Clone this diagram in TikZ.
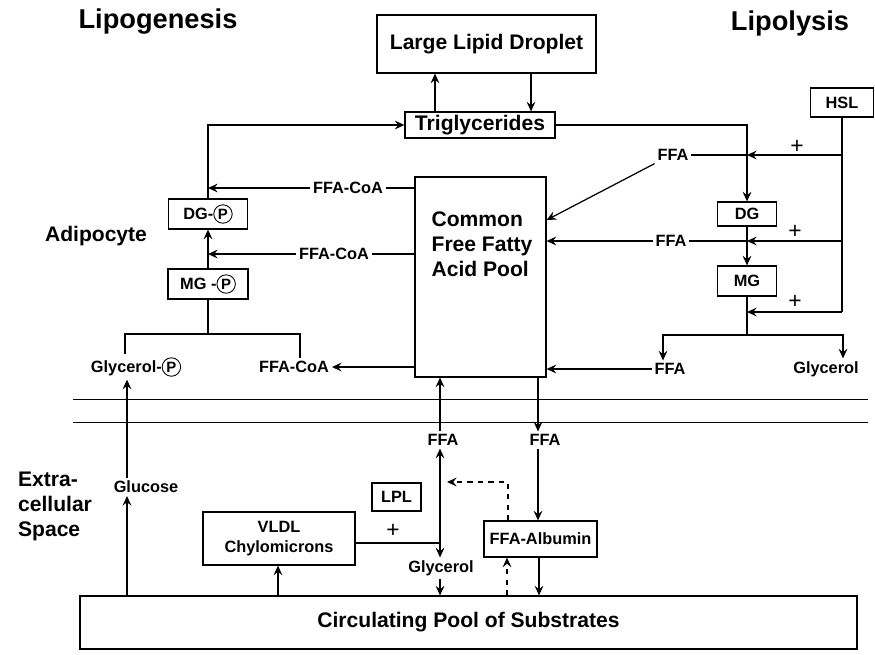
\documentclass[tikz,border=0pt]{standalone}
\usepackage{fontspec}
\setmainfont{Liberation Sans}
\usetikzlibrary{arrows.meta,positioning,calc}
\newcommand{\phos}{\tikz[baseline=(phosP.base)]\node[draw, circle, line width=0.5pt, inner sep=0.3pt,
  minimum size=10.5pt, anchor=center, font=\fontsize{8.5}{8.5}\selectfont\bfseries] (phosP) {P};}

\begin{document}
\begin{tikzpicture}[
  x=0.02cm, y=-0.02cm,
  box/.style={draw, line width=0.7pt, inner sep=0pt, font=\fontsize{9.3}{11.4}\selectfont\bfseries},
  bigbox/.style={draw, line width=0.7pt, inner sep=0pt, font=\fontsize{12}{14.8}\selectfont\bfseries},
  lbl/.style={inner sep=1.5pt, font=\fontsize{9.3}{11}\selectfont\bfseries},
  biglbl/.style={inner sep=1pt, align=left, font=\fontsize{12}{14.2}\selectfont\bfseries},
  plus/.style={inner sep=0pt, font=\fontsize{13}{13}\selectfont},
  heading/.style={inner sep=0pt, font=\fontsize{15.5}{18}\selectfont\bfseries},
  arrow/.style={-{Stealth[length=5.5pt, width=5pt, inset=2pt]}, line width=0.7pt},
  link/.style={line width=0.7pt},
  membrane/.style={line width=0.5pt}
]
\useasboundingbox (0,0) rectangle (875,654);

\node[heading, anchor=base] (lipogenesis) at (158,28) {Lipogenesis};
\node[heading, anchor=base] (lipolysis) at (790,30) {Lipolysis};
\node[biglbl, anchor=base] (adipocyte) at (96,241) {Adipocyte};
\node[biglbl, anchor=west] (extraSpace) at (16,506) {Extra-\\cellular\\Space};

\node[bigbox, minimum width=4.38cm, minimum height=1.16cm] (droplet) at (486.5,44) {Large Lipid Droplet};
\node[bigbox, minimum width=3cm, minimum height=0.52cm] (trig) at (480,125) {Triglycerides};
\node[bigbox, minimum width=2.62cm, minimum height=4cm] (ffaPool) at (480.5,277) {};
\node[biglbl] (ffaPoolText) at (482,244) {Common\\Free Fatty\\Acid Pool};

\node[box, minimum width=1.58cm, minimum height=0.6cm] (dgP) at (208,214) {DG-\phos};
\node[box, minimum width=1.6cm, minimum height=0.6cm] (mgP) at (208,284) {MG -\phos};
\node[lbl] (ffaCoAa) at (348,188) {FFA-CoA};
\node[lbl] (ffaCoAb) at (334,254) {FFA-CoA};
\node[lbl] (glycerolP) at (136,367) {Glycerol-\phos};
\node[lbl] (ffaCoAc) at (294,367) {FFA-CoA};

\node[box, minimum width=1.26cm, minimum height=0.58cm] (hsl) at (842,102.5) {HSL};
\node[box, minimum width=1.18cm, minimum height=0.48cm] (dg) at (747,214) {DG};
\node[box, minimum width=1.18cm, minimum height=0.6cm] (mg) at (747,281) {MG};
\node[lbl] (ffaTop) at (673,155) {FFA};
\node[lbl] (ffaMid) at (671,241) {FFA};
\node[lbl] (ffaLow) at (670,369) {FFA};
\node[lbl] (glycerolR) at (826,369) {Glycerol};
\node[plus] (plusA) at (797,147) {+};
\node[plus] (plusB) at (795,232) {+};
\node[plus] (plusC) at (795,302) {+};

\node[lbl] (ffaIn) at (443,440) {FFA};
\node[lbl] (ffaOut) at (545,440) {FFA};
\node[lbl] (glucose) at (146,487) {Glucose};
\node[box, minimum width=0.98cm, minimum height=0.56cm] (lpl) at (396.5,497) {LPL};
\node[box, minimum width=3.04cm, minimum height=1.06cm, align=center] (vldl) at (279,538.5) {VLDL\\Chylomicrons};
\node[plus] (plusLpl) at (393,531) {+};
\node[box, minimum width=2.26cm, minimum height=0.72cm] (albumin) at (540.5,539) {FFA-Albumin};
\node[lbl] (glycerolL) at (441,568) {Glycerol};
\node[bigbox, minimum width=15.54cm, minimum height=1.06cm] (circ) at (468.5,622.5) {Circulating Pool of Substrates};

\coordinate (splitL) at (125,334);
\coordinate (splitR) at (300,334);
\coordinate (hslA) at (842,155);
\coordinate (hslB) at (842,241);
\coordinate (hslC) at (842,312);
\coordinate (lipoSplit) at (747,335);
\coordinate (lplJoin) at (440,543);
\coordinate (dashEnd) at (447,482);

\draw[membrane] (73,399) -- (868,399);
\draw[membrane] (73,422) -- (868,422);

\draw[arrow] (trig.north -| 435,0) -- (droplet.south -| 435,0);
\draw[arrow] (droplet.south -| 531,0) -- (trig.north -| 531,0);
\draw[arrow] (dgP.north) |- (trig.west);
\draw[link] (ffaPool.west |- ffaCoAa) -- (ffaCoAa.east);
\draw[arrow] (ffaCoAa.west) -- (ffaCoAa -| dgP.north);
\draw[link] (ffaPool.west |- ffaCoAb) -- (ffaCoAb.east);
\draw[arrow] (ffaCoAb.west) -- (ffaCoAb -| mgP.north);
\draw[arrow] (mgP.north) -- (dgP.south);
\draw[link] (mgP.south) -- (mgP.south |- splitL);
\draw[link] (glycerolP.north -| splitL) -- (splitL) -- (splitR) -- (ffaCoAc.north -| splitR);
\draw[arrow] (ffaPool.west |- ffaCoAc) -- (ffaCoAc.east);
\draw[arrow] (circ.north -| 127,0) -- (glucose.south -| 127,0);
\draw[arrow] (glucose.north -| 127,0) -- (glycerolP.south -| 127,0);

\draw[arrow] (trig.east) -| (dg.north);
\draw[link] (hsl.south) -- (hslC);
\draw[arrow] (hslA) -- (hslA -| dg.north);
\draw[arrow] (hslB) -- (hslB -| dg.south);
\draw[arrow] (hslC) -- (hslC -| mg.south);
\draw[link] (ffaTop.east) -- (ffaTop -| dg.north);
\draw[arrow] (ffaTop.south west) -- (ffaPool.east |- 0,220);
\draw[link] (ffaMid.east) -- (ffaMid -| dg.south);
\draw[arrow] (ffaMid.west) -- (ffaMid -| ffaPool.east);
\draw[arrow] (dg.south) -- (mg.north);
\draw[link] (mg.south) -- (lipoSplit);
\draw[arrow] (lipoSplit) -| (ffaLow.north -| 663,0);
\draw[arrow] (lipoSplit) -| (glycerolR.north -| 843,0);
\draw[arrow] (ffaLow.west) -- (ffaLow -| ffaPool.east);

\draw[arrow] (ffaIn.north -| lplJoin) -- (ffaPool.south -| lplJoin);
\draw[arrow] (ffaPool.south -| 538,0) -- (ffaOut.north -| 538,0);
\draw[arrow] (ffaOut.south -| 538,0) -- (albumin.north -| 538,0);
\draw[link] (vldl.east |- lplJoin) -- (lplJoin);
\draw[arrow] (lplJoin) -- (ffaIn.south -| lplJoin);
\draw[arrow] (lplJoin) -- (glycerolL.north -| lplJoin);
\draw[arrow] (glycerolL.south -| lplJoin) -- (circ.north -| lplJoin);
\draw[arrow] (circ.north -| 278,0) -- (vldl.south -| 278,0);
\draw[arrow, dashed] (albumin.north -| 508,0) |- (dashEnd);
\draw[arrow, dashed] (circ.north -| 507,0) -- (albumin.south -| 507,0);
\draw[arrow] (albumin.south -| 539,0) -- (circ.north -| 539,0);
\end{tikzpicture}
\end{document}
